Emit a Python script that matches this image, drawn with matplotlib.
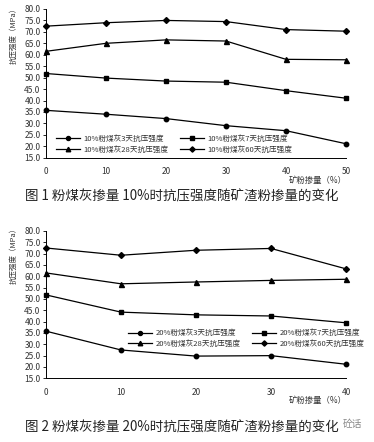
import matplotlib.pyplot as plt

plt.rcParams["font.family"] = ["Noto Sans CJK SC", "DejaVu Sans"]

# 图1: 粉煤灰掺量 10%
slag_1 = [0, 10, 20, 30, 40, 50]
d3_1 = [35.7, 34.0, 32.1, 29.0, 26.8, 21.1]
d7_1 = [51.8, 49.8, 48.5, 48.0, 44.3, 41.0]
d28_1 = [61.5, 65.0, 66.5, 66.0, 58.0, 57.8]
d60_1 = [72.5, 74.0, 75.0, 74.5, 71.0, 70.3]

# 图2: 粉煤灰掺量 20%
slag_2 = [0, 10, 20, 30, 40]
d3_2 = [35.8, 27.5, 24.8, 25.0, 21.2]
d7_2 = [51.8, 44.2, 43.0, 42.5, 39.5]
d28_2 = [61.5, 56.7, 57.5, 58.2, 58.7]
d60_2 = [72.5, 69.3, 71.5, 72.3, 63.3]

yticks = [15, 20, 25, 30, 35, 40, 45, 50, 55, 60, 65, 70, 75, 80]
W, H = 374, 442


def draw(ax, x, series, pct, legend_loc):
    markers = ["o", "s", "^", "D"]
    sizes = [3.2, 3.5, 3.6, 3.0]
    names = ["3天", "7天", "28天", "60天"]
    lines = []
    for y, m, s, n in zip(series, markers, sizes, names):
        ln, = ax.plot(x, y, color="black", lw=0.9, marker=m, ms=s, clip_on=False,
                      label=f"{pct}粉煤灰{n}抗压强度")
        lines.append(ln)
    ax.set_xlim(x[0], x[-1])
    ax.set_ylim(15, 80)
    ax.set_yticks(yticks)
    ax.set_yticklabels([f"{v:.1f}" for v in yticks], fontsize=6, color="#333333")
    ax.set_xticks(x)
    ax.set_xticklabels([str(v) for v in x], fontsize=6, color="#333333")
    ax.tick_params(axis="y", length=2, width=0.6, pad=2)
    ax.tick_params(axis="x", length=0, pad=7)
    for s in ["top", "right"]:
        ax.spines[s].set_visible(False)
    for s in ["left", "bottom"]:
        ax.spines[s].set_linewidth(0.7)
    # rows: 3天 7天 / 28天 60天
    order = [0, 2, 1, 3]
    ax.legend([lines[i] for i in order], [lines[i].get_label() for i in order],
              ncol=2, frameon=False, fontsize=5.5, loc="lower left",
              bbox_to_anchor=legend_loc, handlelength=3.2, columnspacing=1.5,
              labelspacing=0.35, handletextpad=0.4, labelcolor="#333333",
              markerscale=0.9)


fig = plt.figure(figsize=(W / 100, H / 100), dpi=100)

ax1 = fig.add_axes([46 / W, 1 - 157.7 / H, 300 / W, 148.7 / H])
draw(ax1, slag_1, [d3_1, d7_1, d28_1, d60_1], "10%", (0.01, -0.02))
ax2 = fig.add_axes([46 / W, 1 - 378.3 / H, 300 / W, 147.3 / H])
draw(ax2, slag_2, [d3_2, d7_2, d28_2, d60_2], "20%", (0.25, 0.16))

for y_lab, y_x in [(34, 180), (254, 400)]:
    fig.text(14 / W, 1 - y_lab / H, "抗压强度（MPa）", rotation=90,
             ha="center", va="center", fontsize=5.4, color="#333333")
    fig.text(347 / W, 1 - y_x / H, "矿粉掺量（%）", ha="right", va="center",
             fontsize=6, color="#333333")

fig.text(25 / W, 1 - 196 / H, "图 1 粉煤灰掺量 10%时抗压强度随矿渣粉掺量的变化",
         ha="left", va="center", fontsize=9.7, color="#222222", fontweight="medium")
fig.text(25 / W, 1 - 427 / H, "图 2 粉煤灰掺量 20%时抗压强度随矿渣粉掺量的变化",
         ha="left", va="center", fontsize=9.7, color="#222222", fontweight="medium")
fig.text(352 / W, 1 - 424 / H, "砼话", ha="center", va="center",
         fontsize=7, color="#888888")

fig.savefig("out.png", dpi=100)
